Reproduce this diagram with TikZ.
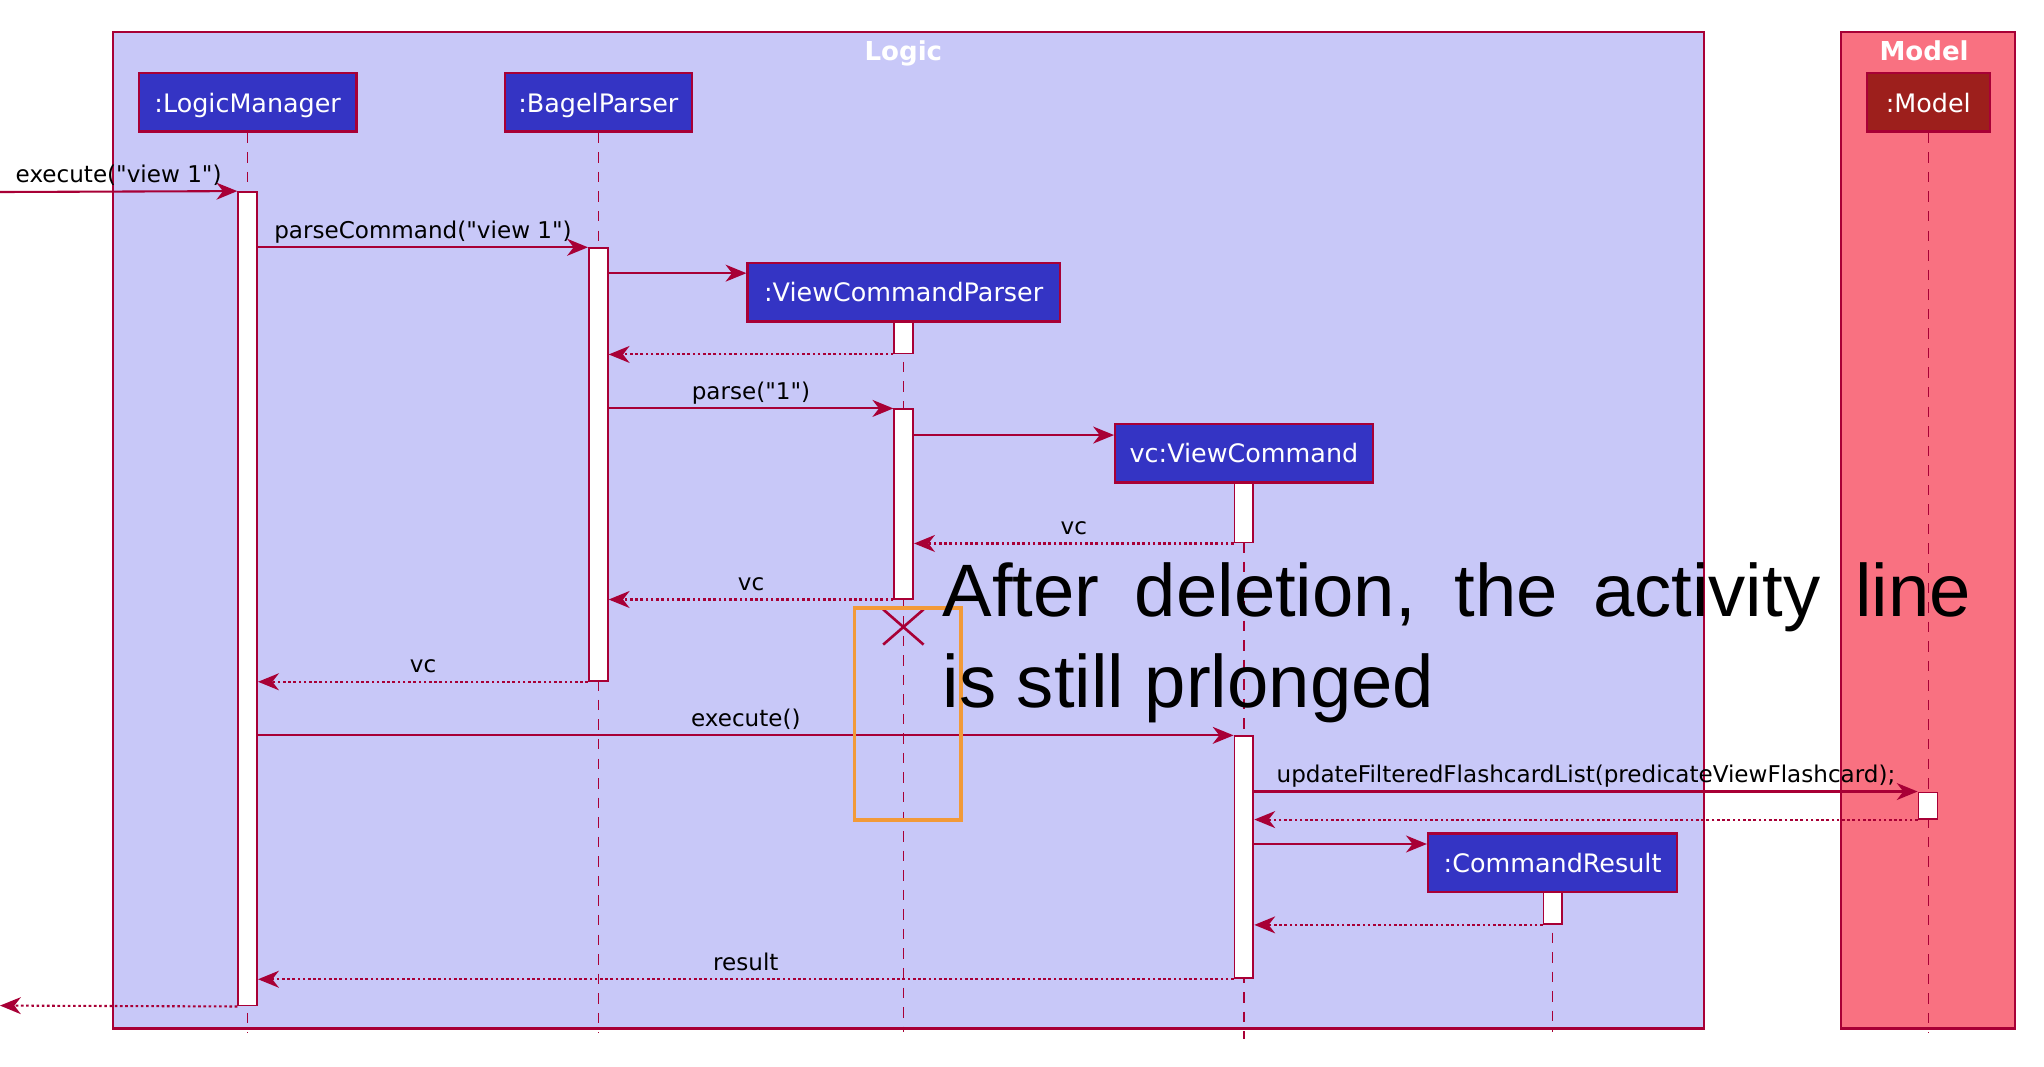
\documentclass[tikz,border=0pt]{standalone}
\usepackage{fontspec}
\setmainfont{DejaVu Sans}
\newfontfamily\plantuml{DejaVu Sans}
\newfontfamily\grande{Liberation Sans}
\usetikzlibrary{arrows.meta,calc,shapes.misc}
\definecolor{bordeau}{HTML}{A80036}
\definecolor{lavande}{HTML}{C8C8F8}
\definecolor{bleu}{HTML}{3434C4}
\definecolor{rose}{HTML}{F97181}
\definecolor{rougefonce}{HTML}{9D1F1C}
\definecolor{orangenote}{HTML}{F29A38}
\begin{document}
\begin{tikzpicture}[x=1pt,y=-1pt]
				\tikzset{objet/.style={draw=bordeau, line width=1.8pt, fill=bleu, text=white, font=\plantuml\fontsize{19.5}{21}\selectfont, minimum height=45pt, inner sep=0pt, text height=15pt, text depth=0pt},
					activ/.style={draw=bordeau, line width=1.4pt, fill=white, minimum width=14.5pt, inner sep=0pt},
					vie/.style={draw=bordeau, line width=1.2pt, dash pattern=on 8pt off 7pt},
					fleche/.style={draw=bordeau, line width=1.6pt, -{Stealth[length=16pt,width=13pt,inset=5pt]}},
					retour/.style={fleche, dash pattern=on 2pt off 2pt},
					etiq/.style={above, font=\plantuml\fontsize{17.7}{19}\selectfont, inner sep=2pt, text=black, text height=13pt, text depth=4pt},
					titre/.style={anchor=base, text=white, font=\plantuml\bfseries\fontsize{20}{22}\selectfont, inner sep=0pt}};
				\useasboundingbox (0,0) rectangle (1568,818);

				% cadres
				\draw[bordeau, fill=lavande, line width=1.6pt] (86.5,24.8) rectangle (1307,789);
				\draw[bordeau, fill=rose, line width=1.6pt] (1412,24.8) rectangle (1546,789);
				\node[titre] (tlogic) at (693,46.4) {Logic};
				\node[titre] (tmodel) at (1476,46.4) {Model};

				% participants
				\node[objet, minimum width=167pt] (lm) at (190,78.5) {:LogicManager};
				\node[objet, minimum width=143.5pt] (bp) at (459,78.5) {:BagelParser};
				\node[objet, minimum width=239.5pt] (vcp) at (693.25,224.15) {:ViewCommandParser};
				\node[objet, minimum width=197.5pt] (vc) at (954.25,347.65) {vc:ViewCommand};
				\node[objet, minimum width=191pt] (cr) at (1191,661.95) {:CommandResult};
				\node[objet, minimum width=94.5pt, fill=rougefonce] (mo) at (1479.25,78.5) {:Model};

				% lignes de vie
				\coordinate (fin) at (0,792);
				\coordinate (fin2) at (0,797);
				\draw[vie] (lm) -- (lm |- fin);
				\draw[vie] (bp) -- (bp |- fin);
				\draw[vie] (vcp) -- (vcp |- fin);
				\draw[vie] (vc) -- (vc |- fin2);
				\draw[vie] (cr) -- (cr |- fin);
				\draw[vie] (mo) -- (mo |- fin);

				% activations
				\node[activ, minimum height=624.1pt] (alm) at (190,459.35) {};
				\node[activ, minimum height=331.9pt] (abp) at (459,356.35) {};
				\node[activ, minimum height=24.5pt] (avcp1) at (693.25,258.95) {};
				\node[activ, minimum height=145.2pt] (avcp2) at (693.25,386.6) {};
				\node[activ, minimum height=45.9pt] (avc1) at (954.25,393.25) {};
				\node[activ, minimum height=185.7pt] (avc2) at (954.25,657.65) {};
				\node[activ, minimum height=20.1pt] (amo) at (1479,617.95) {};
				\node[activ, minimum height=24.3pt] (acr) at (1191.25,696.65) {};

				% messages
				\coordinate (entree) at (0,147.3);
				\coordinate (sortie) at (0,771.4);
				\coordinate (cvcp) at ($(vcp.north west)+(0,8.8)$);
				\coordinate (cvc) at ($(vc.north west)+(0,9.5)$);
				\coordinate (ccr) at ($(cr.north west)+(0,8.9)$);
				\draw[fleche] (entree) -- node[etiq] {execute("view 1")} (alm.north west);
				\draw[fleche] (alm.east |- abp.north) -- node[etiq] {parseCommand("view 1")} (abp.north west);
				\draw[fleche] (abp.east |- cvcp) -- (cvcp);
				\draw[retour] (avcp1.south west) -- (abp.east |- avcp1.south);
				\draw[fleche] (abp.east |- avcp2.north) -- node[etiq] {parse("1")} (avcp2.north west);
				\draw[fleche] (avcp2.east |- cvc) -- (cvc);
				\draw[retour] (avc1.south west) -- node[etiq] {vc} (avcp2.east |- avc1.south);
				\draw[retour] (avcp2.south west) -- node[etiq] {vc} (abp.east |- avcp2.south);
				\node[draw=bordeau, cross out, line width=2pt, minimum width=29pt, minimum height=25pt, inner sep=0pt] (mort) at (693,481) {};
				\draw[retour] (abp.south west) -- node[etiq] {vc} (alm.east |- abp.south);
				\draw[fleche] (alm.east |- avc2.north) -- node[etiq] {execute()} (avc2.north west);
				\draw[fleche] (avc2.east |- amo.north) -- node[etiq] {updateFilteredFlashcardList(predicateViewFlashcard);} (amo.north west);
				\draw[retour] (amo.south west) -- (avc2.east |- amo.south);
				\draw[fleche] (avc2.east |- ccr) -- (ccr);
				\draw[retour] (acr.south west) -- (avc2.east |- acr.south);
				\draw[retour] (avc2.south west) -- node[etiq] {result} (alm.east |- avc2.south);
				\draw[retour] (alm.south west) -- (sortie);

				% remarque
				\draw[orangenote, line width=3pt] (655.5,466.5) rectangle (737.5,629);
				\node[anchor=north west, text width=789pt, align=justify, inner sep=0pt, font=\grande\fontsize{57}{70}\selectfont] (note) at (723,431.3) {After deletion, the activity line\linebreak is still prlonged};
			\end{tikzpicture}
\end{document}
